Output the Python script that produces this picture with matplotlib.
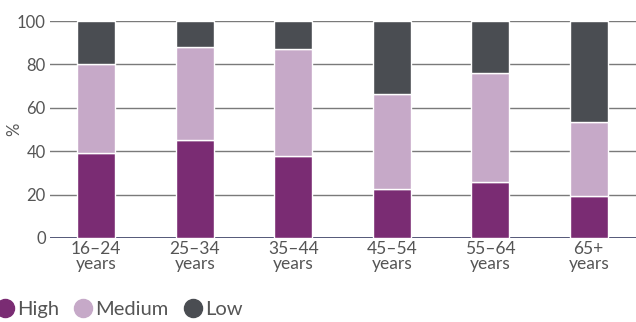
import matplotlib
matplotlib.use("Agg")
import matplotlib.pyplot as plt
from matplotlib.lines import Line2D
import numpy as np

# ─── Data ────────────────────────────────────────────────────────────────────
age_groups = ["16–24\nyears", "25–34\nyears", "35–44\nyears",
              "45–54\nyears", "55–64\nyears", "65+\nyears"]
high   = [39, 45, 38, 22.5, 26, 19.5]
medium = [41, 43, 49, 44, 50, 34]
low    = [20, 12, 13, 33.5, 24, 46.5]

series = [("High", high, "#7a2c73"),
          ("Medium", medium, "#c6a9c8"),
          ("Low", low, "#4a4d52")]

TEXT = "#555555"
plt.rcParams["font.family"] = ["Lato", "DejaVu Sans"]

# ─── Figure ──────────────────────────────────────────────────────────────────
fig = plt.figure(figsize=(6.36, 3.22), dpi=100)
ax = fig.add_axes([50 / 636, 1 - 238 / 322, 586 / 636, 217 / 322])

x = np.arange(len(age_groups))
bottom = np.zeros(len(age_groups))
for name, vals, col in series:
    ax.bar(x, vals, width=0.39, bottom=bottom, color=col,
           edgecolor="white", linewidth=1.0, zorder=3)
    bottom += np.array(vals)

ax.set_xlim(-0.47, 5.48)
ax.set_ylim(0, 100)
ax.set_yticks([0, 20, 40, 60, 80, 100])
ax.set_xticks(x)
ax.set_xticklabels(age_groups, linespacing=0.95, fontsize=12.5)
ax.set_ylabel("%", color=TEXT, fontsize=12)
ax.yaxis.set_label_coords(-0.047, 0.5)

ax.grid(axis="y", color="#7a7a7a", linewidth=1.0, zorder=0)
ax.axhline(0, color="#3d4166", linewidth=1.2, zorder=2)
for sp in ax.spines.values():
    sp.set_visible(False)
ax.tick_params(axis="both", length=0, colors=TEXT)
ax.tick_params(axis="y", pad=3, labelsize=12)
ax.tick_params(axis="x", pad=2)

# Legend along the bottom edge
handles = [Line2D([], [], marker="o", linestyle="none", markersize=13,
                  markerfacecolor=col, markeredgecolor=col)
           for _, _, col in series]
fig.legend(handles, [s[0] for s in series], loc="lower left",
           bbox_to_anchor=(-0.04, -0.045), ncol=3, frameon=False,
           handletextpad=0.0, columnspacing=0.6, fontsize=14.5,
           labelcolor=TEXT, handlelength=1.2)

fig.savefig("out.png", dpi=100)
